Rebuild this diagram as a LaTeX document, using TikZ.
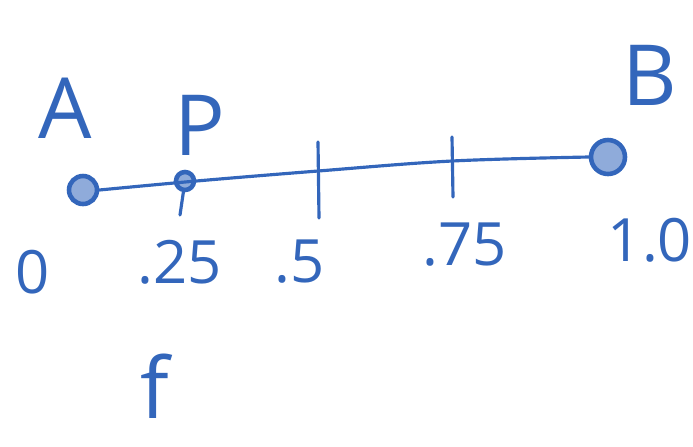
\documentclass[tikz,border=0pt]{standalone}
\usepackage{fontspec}
\setmainfont{Open Sans}
\usepackage{xcolor}
\usetikzlibrary{positioning}
\definecolor{ink}{HTML}{3366BB}

\begin{document}
\begin{tikzpicture}[
  ink, line width=0.9pt, line cap=round,
  dot/.style={circle, draw=ink, line width=1.3pt, fill=ink!55, inner sep=0pt},
  big/.style={text=ink, font=\fontsize{24}{26}\selectfont},
  num/.style={text=ink, font=\fontsize{17}{19}\selectfont}]
\useasboundingbox (0,0) rectangle (6.93,4.46);
% points on the line
\node[dot, minimum size=2.8mm] (A) at (0.83,2.56) {};
\node[dot, minimum size=1.8mm] (P) at (1.85,2.65) {};
\node[dot, minimum size=3.4mm] (B) at (6.08,2.89) {};
\coordinate (t2) at (3.18,2.75);
\coordinate (t3) at (4.52,2.85);
\draw plot[smooth, tension=0.6] coordinates {(A.east) (P.east) (t2) (t3) (B.west)};
% ticks
\coordinate (t2a) at (3.18,3.04); \coordinate (t2b) at (3.19,2.28);
\coordinate (t3a) at (4.52,3.09); \coordinate (t3b) at (4.53,2.49);
\coordinate (pb) at (1.80,2.31);
\draw (t2a) -- (t2b);
\draw (t3a) -- (t3b);
\draw (P) -- (pb);
% labels
\node[big] (lA) at (0.65,3.38) {A};
\node[big] (lP) at (2.00,3.21) {P};
\node[big] (lB) at (6.50,3.71) {B};
\node[num] (n0) at (0.33,1.74) {0};
\node[num] (n1) at (1.80,1.84) {.25};
\node[num] (n2) at (3.00,1.84) {.5};
\node[num] (n3) at (4.65,2.01) {.75};
\node[num] (n4) at (6.50,2.06) {1.0};
\node[big] (lf) at (1.55,0.60) {f};
\end{tikzpicture}
\end{document}
